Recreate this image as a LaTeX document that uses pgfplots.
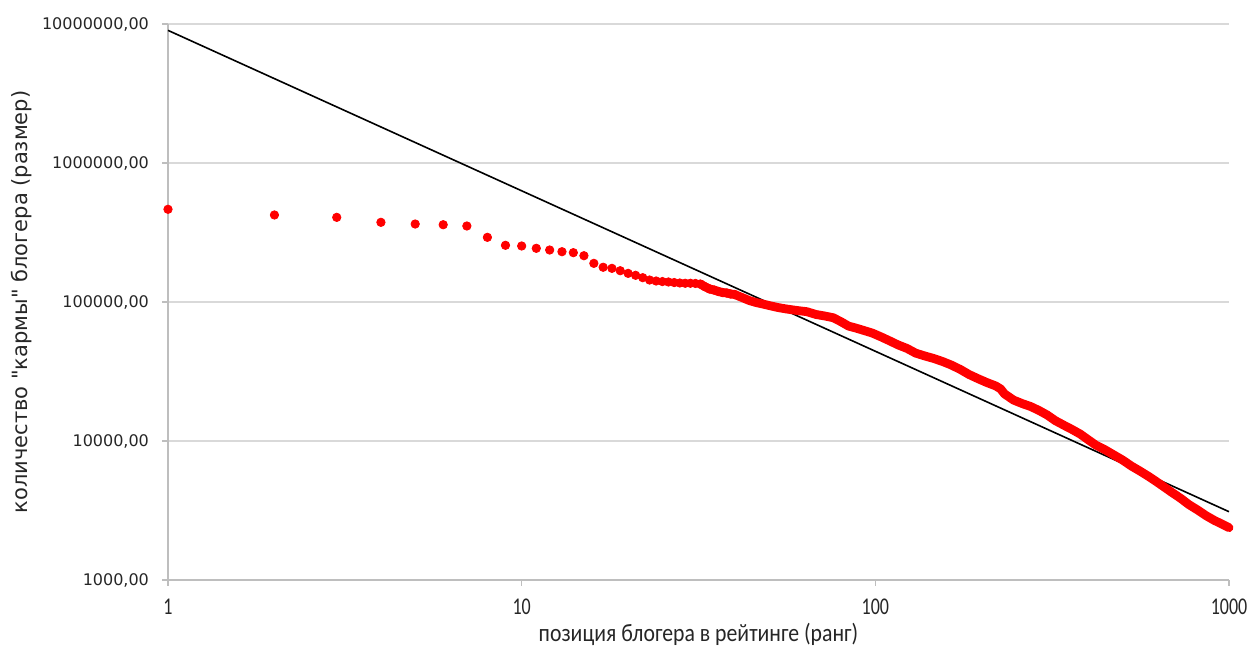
\documentclass[border=0pt]{standalone}
\usepackage{fontspec}
\usepackage{pgfplots}
\pgfplotsset{compat=1.18}
\newfontfamily\dejavu{DejaVu Sans}
\newfontfamily\carlcond[FakeStretch=0.75]{Carlito}
\newfontfamily\carllabel[FakeStretch=0.87]{Carlito}
\definecolor{gridgray}{RGB}{217,217,217}
\definecolor{axisgray}{RGB}{190,190,190}
\definecolor{dotred}{RGB}{255,0,0}
\begin{document}
\begin{tikzpicture}
\begin{axis}[
  scale only axis,
  width=530.5pt, height=278pt,
  xmode=log, ymode=log,
  xmin=1, xmax=1000, ymin=1000, ymax=1e7,
  axis lines=left,
  axis line style={axisgray, -, line width=0.8pt},
  xminorticks=false, yminorticks=false,
  xtick={1,10,100,1000},
  xticklabels={1,10,100,1000},
  ytick={1000,10000,100000,1000000,10000000},
  yticklabels={{1000,00},{10000,00},{100000,00},{1000000,00},{10000000,00}},
  ymajorgrids,
  grid style={gridgray, line width=0.8pt},
  tick align=outside,
  major tick length=3pt,
  tick style={axisgray, line width=0.8pt},
  yticklabel style={font=\dejavu\fontsize{8}{10}\selectfont, text=black!85, xshift=-3pt},
  xticklabel style={font=\carlcond\fontsize{12}{14}\selectfont, text=black!85, yshift=-3pt},
  xlabel={позиция блогера в рейтинге (ранг)},
  ylabel={количество "кармы" блогера (размер)},
  xlabel style={font=\carllabel\fontsize{12.5}{15}\selectfont, text=black!85, at={(axis description cs:0.5,-0.0971)}, anchor=center},
  ylabel style={font=\dejavu\fontsize{10.5}{12}\selectfont, text=black!85, at={(axis description cs:-0.1376,0.5)}, anchor=center},
  clip=false,
]
% power-law trend line
\addplot[black, line width=0.8pt] coordinates {(1,9.0e6) (1000,3.1e3)};
% dense part drawn as a thick band
\addplot[dotred, line width=4.4pt, line cap=round, line join=round] coordinates {
(32,134700) (33,128800) (34,124100) (35,121900) (36,119000) (37,117000) (38,116100) (39,114200) (40,113300)
(42,107700) (44,102500) (46,99100) (48,96800) (50,94400) (53,91300) (56,89100) (60,86900) (64,85200)
(68,81300) (72,79300) (76,77100) (80,72100) (84,67100) (88,65000) (93,62300) (98,59800) (104,56000)
(110,52400) (116,49100) (123,46300) (130,42900) (138,40900) (146,39300) (155,37300) (164,35200)
(174,32700) (184,30100) (195,28100) (207,26300) (219,24900) (226,23700) (232,21800) (246,19700)
(260,18600) (275,17700) (290,16600) (306,15400) (323,14000) (341,13000) (360,12100) (380,11200)
(400,10200) (420,9350) (445,8680) (470,8000) (500,7300) (530,6600) (560,6080) (590,5600) (620,5150)
(650,4740) (690,4260) (730,3870) (770,3490) (815,3190) (860,2910) (910,2680) (960,2510) (1000,2380)
};
% individual points
\addplot[only marks, mark=*, mark size=2.1pt, mark options={draw=dotred, fill=dotred}] coordinates {
(1,464500) (2,422700) (3,406400) (4,374300) (5,364000) (6,359700) (7,352200) (8,291900) (9,255800)
(10,252900) (11,243300) (12,236600) (13,230100) (14,226400) (15,215300) (16,189700) (17,177800)
(18,174600) (19,167900) (20,160700) (21,155600) (22,149600) (23,143900) (24,141600) (25,140300)
(26,139300) (27,138000) (28,137000) (29,136400) (30,136400) (31,136000) (32,134700) (33,128800)
(34,124100) (35,121900) (36,119000) (37,117000) (38,116100) (39,114200) (40,113300)
};
\end{axis}
\pgfresetboundingbox
\useasboundingbox (current axis.south west) ++(-84pt,-34pt) rectangle ++(625.5pt,324pt);
\end{tikzpicture}
\end{document}
